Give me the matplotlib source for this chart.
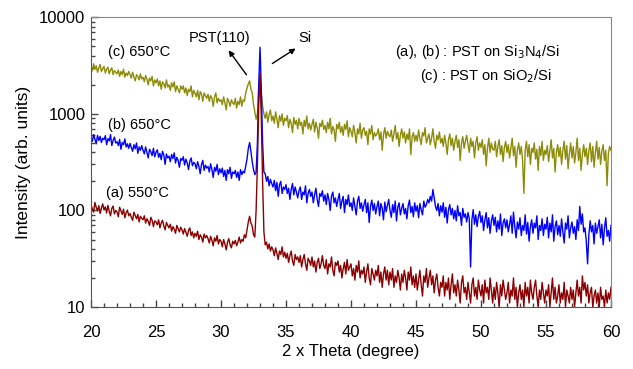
import numpy as np
import matplotlib
matplotlib.use("Agg")
import matplotlib.pyplot as plt
from matplotlib.ticker import MultipleLocator, LogLocator, NullFormatter

plt.rcParams['font.family'] = ['Liberation Sans', 'DejaVu Sans']

# 2-theta grid: 20.0 .. 60.0, step 0.1 (one row below = one degree)
two_theta = np.round(np.arange(200, 601) * 0.1, 1)

# (a) 550C, PST on Si3N4/Si
int_a = [
    115, 104, 96, 121, 108, 99, 112, 93, 106, 117,
    101, 109, 94, 113, 98, 88, 105, 111, 92, 100,
    97, 86, 108, 99, 91, 103, 84, 95, 101, 88,
    93, 85, 79, 96, 89, 82, 91, 76, 87, 83,
    80, 88, 74, 82, 77, 70, 85, 79, 68, 78,
    76, 71, 80, 66, 74, 79, 69, 63, 75, 70,
    66, 72, 61, 68, 64, 58, 70, 65, 60, 67,
    63, 57, 65, 59, 54, 62, 66, 55, 60, 52,
    58, 54, 61, 50, 56, 53, 47, 57, 52, 55,
    51, 46, 54, 49, 43, 52, 48, 55, 45, 50,
    48, 42, 50, 45, 39, 47, 51, 44, 41, 48,
    45, 49, 43, 47, 53, 46, 50, 48, 56, 52,
    63, 76, 87, 74, 69, 56, 53, 100, 300, 1200,
    2650, 900, 200, 60, 44, 47, 40, 45, 38, 42,
    39, 34, 41, 36, 31, 38, 35, 42, 33, 37,
    32, 36, 29, 34, 38, 30, 27, 35, 31, 33,
    29, 34, 26, 31, 35, 28, 24, 32, 30, 27,
    33, 26, 30, 23, 29, 32, 25, 28, 34, 27,
    25, 31, 22, 28, 26, 33, 24, 21, 29, 27,
    30, 23, 27, 20, 25, 29, 22, 31, 24, 26,
    28, 21, 25, 19, 27, 23, 30, 20, 24, 22,
    26, 18, 23, 28, 20, 17, 25, 22, 19, 24,
    21, 27, 18, 23, 16, 22, 26, 19, 24, 17,
    23, 19, 25, 16, 21, 18, 24, 20, 15, 22,
    18, 24, 20, 15, 23, 19, 26, 17, 21, 16,
    22, 15, 19, 24, 17, 13, 21, 18, 25, 16,
    20, 24, 17, 21, 14, 19, 22, 16, 13, 18,
    16, 21, 13, 18, 15, 20, 12, 17, 22, 14,
    17, 13, 19, 15, 11, 18, 21, 14, 16, 12,
    18, 14, 11, 17, 20, 13, 16, 12, 19, 15,
    13, 17, 11, 19, 14, 16, 12, 20, 15, 11,
    16, 12, 18, 14, 10, 17, 13, 19, 15, 12,
    14, 18, 11, 15, 13, 20, 12, 16, 10, 14,
    17, 12, 15, 10, 18, 13, 16, 11, 19, 14,
    12, 16, 19, 13, 10, 15, 12, 18, 14, 11,
    15, 13, 17, 10, 14, 20, 12, 16, 11, 13,
    17, 11, 14, 12, 18, 10, 15, 13, 11, 16,
    12, 15, 10, 14, 19, 13, 16, 11, 21, 15,
    18, 13, 17, 11, 14, 16, 10, 13, 15, 11,
    14, 10, 16, 12, 13, 10, 15, 11, 14, 12,
    16,
]

# (b) 650C, PST on Si3N4/Si
int_b = [
    575, 520, 610, 545, 490, 600, 530, 585, 505, 560,
    540, 595, 480, 555, 525, 610, 470, 530, 575, 500,
    515, 470, 545, 430, 505, 480, 550, 455, 490, 440,
    495, 450, 410, 480, 435, 500, 390, 455, 420, 470,
    420, 385, 455, 400, 350, 430, 405, 370, 440, 360,
    400, 425, 355, 390, 335, 410, 375, 300, 385, 350,
    365, 320, 380, 345, 395, 310, 355, 330, 280, 345,
    330, 360, 295, 340, 310, 265, 325, 350, 290, 315,
    305, 270, 320, 285, 240, 300, 330, 260, 295, 275,
    285, 250, 305, 265, 220, 280, 255, 300, 235, 270,
    245, 275, 225, 260, 205, 265, 240, 280, 215, 250,
    240, 260, 220, 250, 205, 265, 235, 255, 245, 290,
    340, 440, 505, 410, 320, 265, 235, 250, 500, 2000,
    4900, 1800, 500, 250, 240, 200, 225, 180, 210, 190,
    175, 205, 160, 195, 140, 185, 200, 150, 175, 165,
    185, 150, 170, 130, 165, 190, 145, 175, 155, 135,
    160, 175, 130, 155, 145, 180, 120, 150, 165, 140,
    155, 120, 145, 170, 130, 110, 150, 140, 160, 125,
    145, 115, 150, 130, 100, 140, 155, 120, 135, 110,
    130, 150, 105, 125, 140, 95, 130, 115, 145, 110,
    120, 100, 135, 110, 90, 125, 140, 105, 120, 98,
    115, 130, 95, 120, 75, 110, 128, 100, 118, 92,
    110, 125, 88, 118, 105, 80, 122, 97, 112, 130,
    100, 85, 115, 95, 125, 78, 108, 120, 90, 105,
    118, 92, 105, 82, 112, 128, 95, 110, 86, 120,
    98, 112, 84, 118, 102, 90, 125, 108, 115, 130,
    120, 140, 125, 165, 135, 110, 100, 118, 88, 112,
    96, 120, 85, 108, 74, 102, 115, 90, 105, 82,
    100, 78, 112, 88, 95, 70, 105, 85, 92, 76,
    95, 82, 26, 80, 102, 72, 90, 68, 86, 98,
    75, 88, 62, 80, 95, 66, 84, 58, 78, 90,
    70, 85, 60, 78, 64, 92, 55, 74, 82, 66,
    80, 60, 72, 88, 58, 96, 68, 52, 76, 64,
    84, 55, 70, 62, 90, 57, 75, 48, 68, 80,
    58, 74, 66, 88, 50, 70, 62, 82, 55, 72,
    64, 85, 52, 74, 60, 90, 48, 68, 78, 56,
    70, 54, 82, 60, 46, 74, 64, 88, 52, 66,
    76, 58, 68, 50, 80, 62, 110, 72, 92, 60,
    66, 48, 28, 56, 78, 60, 70, 45, 74, 58,
    68, 80, 52, 72, 44, 66, 84, 54, 62, 48,
    70,
]

# (c) 650C, PST on SiO2/Si
int_c = [
    3050, 2800, 3300, 2900, 3150, 2700, 3000, 3250, 2750, 2950,
    3100, 2650, 2900, 3050, 2600, 2850, 3000, 2550, 2800, 2700,
    2600, 2850, 2450, 2750, 2550, 2900, 2400, 2650, 2500, 2750,
    2550, 2350, 2700, 2400, 2200, 2550, 2450, 2250, 2600, 2300,
    2400, 2150, 2500, 2300, 2000, 2350, 2200, 2450, 1950, 2250,
    2100, 2300, 1950, 2200, 1800, 2150, 2050, 1850, 2250, 1900,
    2000, 1750, 2100, 1900, 2150, 1700, 1950, 1800, 1650, 1950,
    1800, 1950, 1650, 1850, 1550, 1800, 1700, 1950, 1500, 1750,
    1650, 1500, 1750, 1400, 1700, 1600, 1350, 1650, 1550, 1450,
    1600, 1350, 1550, 1450, 1200, 1500, 1650, 1300, 1450, 1350,
    1400, 1250, 1500, 1300, 1100, 1450, 1350, 1200, 1400, 1300,
    1250, 1450, 1150, 1350, 1250, 1500, 1200, 1400, 1350, 1650,
    1850, 2050, 2200, 1800, 1650, 1250, 1050, 880, 1000, 1800,
    2400, 1600, 1200, 1000, 900, 1050, 820, 980, 1100, 850,
    950, 800, 1050, 880, 720, 960, 840, 1000, 760, 900,
    850, 960, 720, 880, 800, 640, 920, 780, 860, 700,
    900, 760, 820, 620, 860, 740, 950, 700, 800, 680,
    780, 880, 650, 820, 720, 560, 800, 740, 860, 690,
    760, 640, 820, 700, 900, 620, 740, 680, 520, 780,
    700, 820, 640, 740, 600, 780, 690, 850, 580, 720,
    660, 580, 760, 640, 500, 700, 620, 800, 560, 680,
    720, 600, 660, 480, 700, 620, 760, 540, 640, 590,
    620, 700, 540, 650, 420, 610, 720, 560, 660, 600,
    580, 680, 520, 620, 760, 550, 640, 460, 600, 700,
    560, 650, 500, 620, 540, 700, 380, 580, 640, 520,
    600, 520, 680, 560, 480, 640, 590, 720, 500, 560,
    620, 480, 560, 700, 520, 440, 600, 540, 650, 500,
    560, 460, 600, 500, 380, 540, 620, 470, 560, 420,
    520, 600, 450, 540, 330, 500, 580, 440, 520, 600,
    480, 400, 560, 460, 520, 350, 500, 580, 420, 500,
    450, 540, 380, 480, 290, 440, 560, 400, 500, 430,
    420, 520, 360, 460, 540, 380, 470, 320, 450, 520,
    400, 480, 350, 440, 560, 370, 460, 280, 420, 500,
    380, 460, 330, 150, 420, 520, 360, 480, 300, 440,
    400, 500, 340, 430, 260, 460, 370, 520, 330, 420,
    380, 470, 320, 420, 540, 350, 440, 250, 400, 480,
    360, 450, 300, 420, 520, 340, 470, 270, 390, 500,
    350, 460, 310, 400, 560, 330, 440, 260, 380, 480,
    360, 440, 300, 420, 500, 320, 460, 280, 400, 520,
    340, 450, 300, 410, 480, 330, 420, 180, 390, 460,
    420,
]

fig = plt.figure(figsize=(6.33, 3.69), dpi=100)
ax = fig.add_axes([0.1438, 0.168, 0.8214, 0.785])

ax.plot(two_theta, int_c, color='#8c8c0a', lw=1.0)
ax.plot(two_theta, int_b, color='#0000ff', lw=1.0)
ax.plot(two_theta, int_a, color='#8b0000', lw=1.0)

ax.set_yscale('log')
ax.set_xlim(20, 60)
ax.set_ylim(10, 10000)

ax.xaxis.set_major_locator(MultipleLocator(5))
ax.xaxis.set_minor_locator(MultipleLocator(1))
ax.yaxis.set_minor_locator(LogLocator(base=10, subs=np.arange(2, 10)))
ax.yaxis.set_minor_formatter(NullFormatter())
ax.set_yticks([10, 100, 1000, 10000])
ax.set_yticklabels(['10', '100', '1000', '10000'])

ax.tick_params(axis='both', which='both', direction='in', color='#444444',
               top=False, right=False, labelsize=12)
ax.tick_params(axis='x', which='major', length=5, width=1, pad=13)
ax.tick_params(axis='x', which='minor', length=3, width=1)
ax.tick_params(axis='y', which='major', length=5, width=1, pad=4)
ax.tick_params(axis='y', which='minor', length=3, width=1)

for side in ['left', 'bottom']:
    ax.spines[side].set_color('#555555')
for side in ['top', 'right']:
    ax.spines[side].set_color('#888888')

ax.set_xlabel('2 x Theta (degree)', fontsize=12, labelpad=3)
ax.set_ylabel('Intensity (arb. units)', fontsize=12.5, labelpad=6)

# curve labels
ax.text(21.3, 4380, '(c) 650°C', fontsize=10.5, va='center', ha='left')
ax.text(21.3, 767, '(b) 650°C', fontsize=10.5, va='center', ha='left')
ax.text(21.15, 152, '(a) 550°C', fontsize=10.5, va='center', ha='left')

# peak markers
ax.text(29.9, 6100, 'PST(110)', fontsize=10.5, va='center', ha='center')
ax.text(36.45, 6100, 'Si', fontsize=10.5, va='center', ha='center')
ax.annotate('', xy=(30.46, 4810), xytext=(32.08, 2410),
            arrowprops=dict(arrowstyle='-|>', color='black', lw=1,
                            mutation_scale=8))
ax.annotate('', xy=(35.92, 4930), xytext=(33.77, 3207),
            arrowprops=dict(arrowstyle='-|>', color='black', lw=1,
                            mutation_scale=8))

# sample note
ax.text(43.38, 4380, '(a), (b) : PST on Si$_3$N$_4$/Si', fontsize=10.5,
        va='center', ha='left')
ax.text(45.31, 2470, '(c) : PST on SiO$_2$/Si', fontsize=10.5,
        va='center', ha='left')

fig.savefig('out.png', dpi=100)
